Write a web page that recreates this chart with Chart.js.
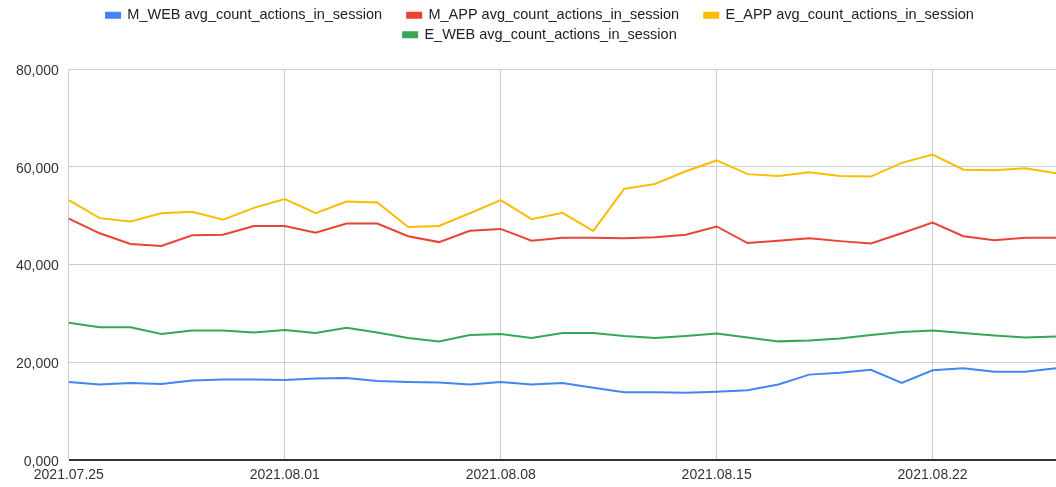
<!DOCTYPE html>
<html>
<head>
<meta charset="utf-8">
<script src="https://cdn.jsdelivr.net/npm/chart.js@4.4.1/dist/chart.umd.min.js"></script>
<style>
    html, body { margin: 0; padding: 0; background: #fff; }
    #wrap { width: 1056px; height: 487px; position: relative; }
</style>
</head>
<body>
<div id="wrap"><canvas id="actionsChart"></canvas></div>
<script>
const dates = [
    '2021.07.25', '2021.07.26', '2021.07.27', '2021.07.28', '2021.07.29', '2021.07.30', '2021.07.31',
    '2021.08.01', '2021.08.02', '2021.08.03', '2021.08.04', '2021.08.05', '2021.08.06', '2021.08.07',
    '2021.08.08', '2021.08.09', '2021.08.10', '2021.08.11', '2021.08.12', '2021.08.13', '2021.08.14',
    '2021.08.15', '2021.08.16', '2021.08.17', '2021.08.18', '2021.08.19', '2021.08.20', '2021.08.21',
    '2021.08.22', '2021.08.23', '2021.08.24', '2021.08.25', '2021.08.26'
];

const mWeb = [16000, 15500, 15800, 15600, 16300, 16500, 16500, 16400, 16700, 16800, 16200, 16000, 15900, 15500, 16000, 15500,
    15800, 14800, 13900, 13900, 13800, 14000, 14300, 15500, 17500, 17900, 18500, 15800, 18400, 18800, 18100, 18100, 18800];

const mApp = [49400, 46400, 44200, 43800, 46000, 46100, 47900, 47900, 46500, 48400, 48400, 45800, 44600, 46900, 47300, 44900,
    45500, 45500, 45400, 45600, 46100, 47800, 44400, 44900, 45400, 44800, 44300, 46400, 48600, 45800, 45000, 45500, 45500];

const eApp = [53200, 49500, 48800, 50500, 50800, 49200, 51600, 53400, 50500, 52900, 52700, 47700, 47900, 50500, 53200, 49300,
    50600, 46900, 55500, 56500, 59100, 61300, 58500, 58100, 58900, 58100, 58000, 60800, 62500, 59400, 59300, 59700, 58700];

const eWeb = [28100, 27200, 27200, 25800, 26500, 26500, 26100, 26600, 26000, 27100, 26100, 25000, 24300, 25600, 25800, 25000,
    26000, 26000, 25400, 25000, 25400, 25900, 25100, 24300, 24500, 24900, 25600, 26200, 26500, 26000, 25500, 25100, 25300];

const yTicks = [0, 20000, 40000, 60000, 80000];

function makeLine(label, data, color) {
    return {
        label: label,
        data: data,
        borderColor: color,
        backgroundColor: color,
        borderWidth: 2,
        pointRadius: 0,
        tension: 0
    };
}

// extra space under the legend and a small shift to the right, like the original
const legendSpacing = {
    id: 'legendSpacing',
    beforeInit(chart) {
        const originalFit = chart.legend.fit;
        chart.legend.fit = function fit() {
            originalFit.bind(chart.legend)();
            this.height += 17;
        };
    },
    afterLayout(chart) {
        chart.legend.left += 19;
        chart.legend.right += 19;
    }
};

function renderActionsChart() {
    const ctx = document.getElementById('actionsChart').getContext('2d');
    Chart.defaults.font.family = "'Liberation Sans', Arial, sans-serif";
    new Chart(ctx, {
        type: 'line',
        data: {
            labels: dates,
            datasets: [
                makeLine('M_WEB avg_count_actions_in_session', mWeb, '#4285F4'),
                makeLine('M_APP avg_count_actions_in_session', mApp, '#EA4335'),
                makeLine('E_APP avg_count_actions_in_session', eApp, '#FBBC04'),
                makeLine('E_WEB avg_count_actions_in_session', eWeb, '#34A853')
            ]
        },
        plugins: [legendSpacing],
        options: {
            responsive: true,
            maintainAspectRatio: false,
            animation: false,
            layout: { padding: { top: 3, right: 0, bottom: -4, left: 6 } },
            plugins: {
                legend: {
                    display: true,
                    position: 'top',
                    labels: {
                        boxWidth: 14,
                        boxHeight: 5,
                        padding: 5,
                        color: '#222',
                        font: { size: 14.5 },
                        // trailing spaces give the wider gap between items
                        generateLabels: (chart) => Chart.defaults.plugins.legend.labels.generateLabels(chart)
                            .map(item => Object.assign(item, { text: item.text + '     ' }))
                    }
                },
                tooltip: { enabled: false }
            },
            scales: {
                x: {
                    offset: false,
                    border: { display: false },
                    afterFit: (scale) => { scale.paddingRight = 0; },
                    grid: {
                        drawTicks: false,
                        color: (c) => (c.index % 7 === 0 ? '#cccccc' : 'rgba(0,0,0,0)')
                    },
                    ticks: {
                        autoSkip: false,
                        maxRotation: 0,
                        padding: 7,
                        color: '#333',
                        font: { size: 14 },
                        callback: function (value, index) {
                            return index % 7 === 0 ? dates[index] : '';
                        }
                    }
                },
                y: {
                    min: 0,
                    max: 80000,
                    border: { display: false },
                    afterBuildTicks: (axis) => { axis.ticks = yTicks.map(v => ({ value: v })); },
                    grid: {
                        drawTicks: false,
                        color: (c) => (c.tick && c.tick.value === 0 ? '#333333' : '#cccccc'),
                        lineWidth: (c) => (c.tick && c.tick.value === 0 ? 2 : 1)
                    },
                    ticks: {
                        padding: 10,
                        labelOffset: 2,
                        color: '#333',
                        font: { size: 14 },
                        callback: function (value) {
                            return value === 0 ? '0,000' : value.toLocaleString('en-US');
                        }
                    }
                }
            }
        }
    });
}

document.addEventListener('DOMContentLoaded', () => {
    renderActionsChart();
});
</script>
</body>
</html>
